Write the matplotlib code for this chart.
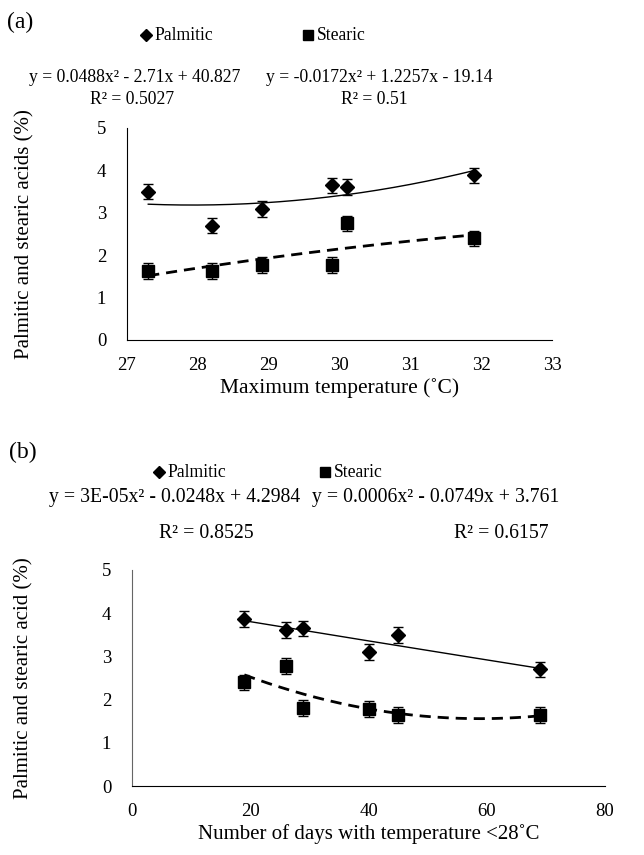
import numpy as np
import matplotlib
matplotlib.use('Agg')
import matplotlib.pyplot as plt
from matplotlib.lines import Line2D

plt.rcParams['font.family'] = ['Liberation Serif', 'DejaVu Serif']
plt.rcParams['font.size'] = 13

# panel (a): maximum temperature
temp_max = [27.3, 28.2, 28.9, 29.9, 30.1, 31.9]
palm_a = [3.50, 2.70, 3.09, 3.65, 3.61, 3.88]
stea_a = [1.63, 1.63, 1.77, 1.77, 2.75, 2.40]

# panel (b): days below 28 C
days_cool = [19, 26, 29, 40, 45, 69]
palm_b = [3.87, 3.61, 3.65, 3.10, 3.50, 2.70]
stea_b = [2.40, 2.78, 1.80, 1.78, 1.64, 1.64]

err = 0.18

eq_a = ['y = 0.0488x² - 2.71x + 40.827', 'y = -0.0172x² + 1.2257x - 19.14']
r2_a = ['R² = 0.5027', 'R² = 0.51']
eq_b = ['y = 3E-05x² - 0.0248x + 4.2984', 'y = 0.0006x² - 0.0749x + 3.761']
r2_b = ['R² = 0.8525', 'R² = 0.6157']

W, H = 644, 855
fig = plt.figure(figsize=(W / 100, H / 100), dpi=100)


def fx(px):
    return px / W


def fy(py):
    return 1 - py / H


def panel(box, x, palm, stea, xlim, xticks, xlabel, ylabel, xlfs, ylpad):
    l, t, r, b = box
    ax = fig.add_axes([fx(l), fy(b), fx(r) - fx(l), fy(t) - fy(b)])
    ax.errorbar(x, palm, yerr=err, fmt='D', color='black', ms=7, capsize=3.7,
                elinewidth=1, capthick=1)
    ax.errorbar(x, stea, yerr=err, fmt='s', color='black', ms=8, capsize=3.7,
                elinewidth=1, capthick=1)
    # quadratic trend lines fitted to the points
    xs = np.linspace(min(x), max(x), 200)
    cp = np.polyfit(x, palm, 2)
    cs = np.polyfit(x, stea, 2)
    ax.plot(xs, np.polyval(cp, xs), color='black', lw=1)
    ax.plot(xs, np.polyval(cs, xs), color='black', lw=2, ls=(0, (4, 2.5)))
    ax.set_xlim(*xlim)
    ax.set_ylim(0, 5)
    ax.set_xticks(xticks)
    ax.set_yticks(range(6))
    ax.tick_params(length=0, labelsize=13.5)
    ax.tick_params(axis='x', pad=12)
    ax.tick_params(axis='y', pad=15)
    for s in ['top', 'right']:
        ax.spines[s].set_visible(False)
    ax.set_xlabel(xlabel, fontsize=xlfs, labelpad=3)
    ax.set_ylabel(ylabel, fontsize=15, labelpad=ylpad)
    return ax


panel((127, 128, 552, 340), temp_max, palm_a, stea_a, (27, 33), range(27, 34),
      'Maximum temperature (˚C)', 'Palmitic and stearic acids (%)', 15.5, 45)
axb = panel((132, 570, 605, 786), days_cool, palm_b, stea_b, (0, 80), range(0, 81, 20),
            'Number of days with temperature <28˚C', 'Palmitic and stearic acid (%)', 15, 49)
axb.spines['left'].set_color('#666666')

# panel letters, legend entries and trend-line equations
fig.text(fx(7), fy(22), '(a)', fontsize=17, va='center')
fig.text(fx(9), fy(452), '(b)', fontsize=17, va='center')

for yy, xd, xsq in [(35, 146, 308), (472, 159, 325)]:
    fig.add_artist(Line2D([fx(xd)], [fy(yy)], marker='D', ms=6.5, color='black',
                          transform=fig.transFigure))
    fig.text(fx(xd + 8), fy(yy), 'Palmitic', va='center', fontsize=12.7)
    fig.add_artist(Line2D([fx(xsq)], [fy(yy)], marker='s', ms=7.5, color='black',
                          transform=fig.transFigure))
    fig.text(fx(xsq + 9), fy(yy), 'Stearic', va='center', fontsize=12.7)

fa, fb = 12.7, 14.2
fig.text(fx(135), fy(77), eq_a[0], ha='center', va='center', fontsize=fa)
fig.text(fx(132), fy(100), r2_a[0], ha='center', va='center', fontsize=fa)
fig.text(fx(379), fy(77), eq_a[1], ha='center', va='center', fontsize=fa)
fig.text(fx(374), fy(100), r2_a[1], ha='center', va='center', fontsize=fa)

fig.text(fx(175), fy(497), eq_b[0], ha='center', va='center', fontsize=fb)
fig.text(fx(206), fy(533), r2_b[0], ha='center', va='center', fontsize=fb)
fig.text(fx(436), fy(497), eq_b[1], ha='center', va='center', fontsize=fb)
fig.text(fx(501), fy(533), r2_b[1], ha='center', va='center', fontsize=fb)

fig.savefig('out.png', dpi=100)
